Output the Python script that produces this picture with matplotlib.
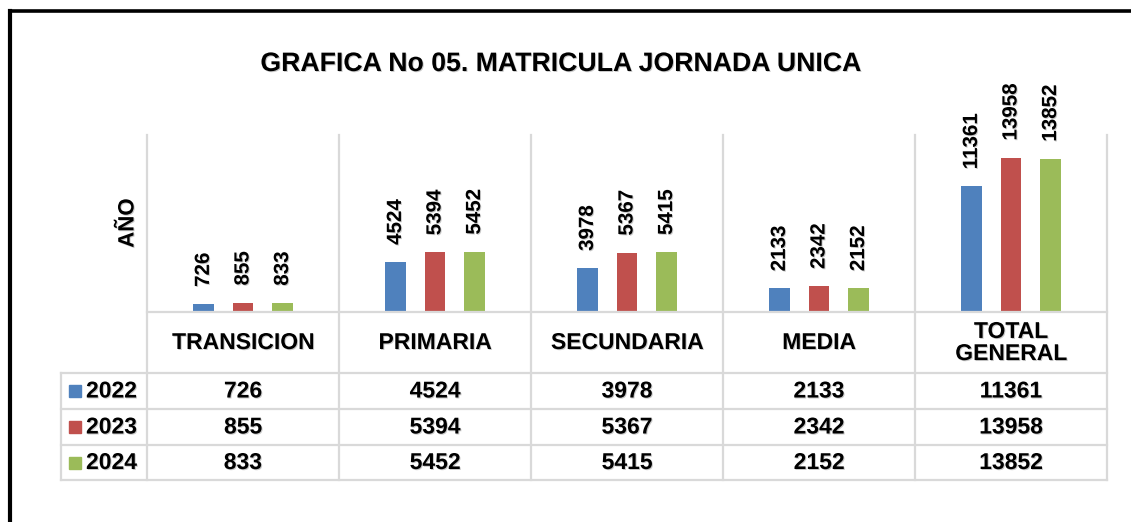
import matplotlib
matplotlib.use("Agg")
import matplotlib.pyplot as plt
import matplotlib.patheffects as pe
from matplotlib.lines import Line2D
from matplotlib.patches import Rectangle

plt.rcParams['font.family'] = ['Liberation Sans', 'DejaVu Sans']

categories = ["TRANSICION", "PRIMARIA", "SECUNDARIA", "MEDIA", "TOTAL\nGENERAL"]
years = ["2022", "2023", "2024"]
v2022 = [726, 4524, 3978, 2133, 11361]
v2023 = [855, 5394, 5367, 2342, 13958]
v2024 = [833, 5452, 5415, 2152, 13852]
series = [v2022, v2023, v2024]
colors = ["#4F81BD", "#C0504D", "#9BBB59"]
title = "GRAFICA No 05. MATRICULA JORNADA UNICA"
ylabel = "AÑO"

W, H = 1131, 522
fig = plt.figure(figsize=(W / 100, H / 100), dpi=100)

shadow = [pe.withSimplePatchShadow(offset=(0.7, -0.7), shadow_rgbFace='#888888', alpha=0.45)]

def fx(x):
    return x / W

def fy(y):
    return 1 - y / H

# plot area geometry (pixels)
PL, PR, PT, PB = 147, 1107, 135, 312
ncat = len(categories)
cw = (PR - PL) / ncat
ax = fig.add_axes([fx(PL), fy(PB), (PR - PL) / W, (PB - PT) / H])
ax.set_xlim(0, ncat)
ax.set_ylim(0, 16000)
ax.axis('off')

bw = 0.109
step = 0.206
for j, vals in enumerate(series):
    xs = [i + 0.5 + (j - 1) * step for i in range(ncat)]
    ax.bar(xs, vals, width=bw, color=colors[j], zorder=3)
    for x, v in zip(xs, vals):
        ax.annotate(str(v), (x, v), xytext=(0, 12.3), textcoords='offset points',
                    rotation=90, ha='center', va='bottom', fontsize=14.8,
                    fontweight='bold', color='black', path_effects=shadow)

grid = '#d9d9d9'
glw = 1.6

def hline(y, x0, x1):
    fig.add_artist(Line2D([fx(x0), fx(x1)], [fy(y), fy(y)], color=grid, lw=glw))

def vline(x, y0, y1):
    fig.add_artist(Line2D([fx(x), fx(x)], [fy(y0), fy(y1)], color=grid, lw=glw))

# table geometry
row_edges = [373, 409, 445, 480]
LX = 61
for i in range(ncat + 1):
    vline(PL + i * cw, PT, row_edges[-1])
vline(LX, row_edges[0], row_edges[-1])
hline(PB, PL, PR)
for y in row_edges:
    hline(y, LX, PR)

# header
for i, c in enumerate(categories):
    fig.text(fx(PL + (i + 0.5) * cw), fy((PB + row_edges[0]) / 2), c,
             ha='center', va='center', fontsize=16.5, fontweight='bold',
             linespacing=0.95, path_effects=shadow)

# rows
for j, vals in enumerate(series):
    yc = (row_edges[j] + row_edges[j + 1]) / 2
    fig.add_artist(Rectangle((fx(69), fy(yc + 6)), 12 / W, 12 / H,
                             color=colors[j], transform=fig.transFigure))
    fig.text(fx(86), fy(yc), years[j], ha='left', va='center', fontsize=16.5,
             fontweight='bold', path_effects=shadow)
    for i, v in enumerate(vals):
        fig.text(fx(PL + (i + 0.5) * cw), fy(yc), str(v), ha='center',
                 va='center', fontsize=16.5, fontweight='bold', path_effects=shadow)

fig.text(fx(560), fy(64), title, ha='center', va='center', fontsize=19.2,
         fontweight='bold', path_effects=shadow)
fig.text(fx(128), fy(223), ylabel, ha='center', va='center', fontsize=16,
         fontweight='bold', rotation=90, path_effects=shadow)

# outer black frame
fig.add_artist(Line2D([fx(10), fx(W + 5)], [fy(11), fy(11)], color='black', lw=2.6))
fig.add_artist(Line2D([fx(10), fx(10)], [fy(11), fy(H + 5)], color='black', lw=3.0))

fig.savefig("out.png", dpi=100)
